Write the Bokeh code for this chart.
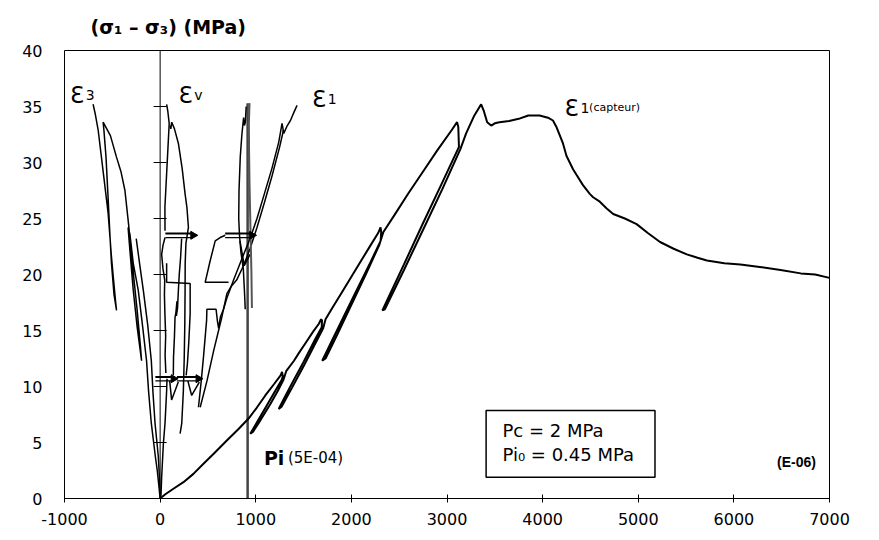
import numpy as np
from bokeh.plotting import figure
from bokeh.models import Range1d, Span, Label, BoxAnnotation
from bokeh.embed import file_html
from bokeh.resources import INLINE

# ---------------- data (strain in E-06, stress in MPa) ----------------
x_ticks = [-1000, 0, 1000, 2000, 3000, 4000, 5000, 6000, 7000]
x_tick_labels = ["-1000", "0", "1000", "2000", "3000", "4000", "5000", "6000", "7000"]
y_ticks = [0, 5, 10, 15, 20, 25, 30, 35, 40]

# eps1 (capteur)
eps1c_x = [0, 51, 139, 244, 348, 453, 560, 700, 820, 925, 1010, 1100, 1190, 1260, 1275, 1283, 1272,
           1200, 1100, 1020, 943,
           970, 1050, 1150, 1230, 1290, 1320, 1400, 1452, 1530, 1600, 1660, 1683, 1693, 1690,
           1620, 1500, 1380, 1300, 1240,
           1270, 1380, 1500, 1620, 1705, 1730, 1800, 1900, 2000, 2100, 2200, 2280, 2305, 2312, 2306,
           2200, 2050, 1900, 1780, 1695,
           1730, 1850, 2000, 2150, 2290, 2335, 2450, 2600, 2750, 2900, 3050, 3105, 3118, 3125,
           2950, 2750, 2550, 2324,
           2350, 2550, 2750, 2950, 3140, 3200, 3280, 3357, 3385, 3420, 3462, 3500, 3548, 3650, 3750,
           3850, 3968, 4056, 4108, 4143, 4213, 4249, 4318, 4354, 4420, 4493, 4528, 4598, 4670, 4738,
           4860, 4983, 5100, 5228, 5370, 5508, 5620, 5718, 5900, 6068, 6250, 6488, 6700, 6850, 7000]
eps1c_y = [0, 0.36, 0.87, 1.46, 2.2, 3.1, 4.0, 5.2, 6.2, 7.14, 8.1, 9.2, 10.2, 11.0, 11.3, 10.9, 10.6,
           9.55, 8.08, 6.91, 5.78,
           5.95, 7.0, 8.4, 9.6, 10.6, 11.4, 12.3, 13.0, 14.0, 14.9, 15.6, 16.0, 15.9, 15.3,
           14.2, 12.2, 10.3, 9.0, 8.0,
           8.2, 9.9, 11.8, 13.8, 15.2, 16.0, 17.0, 18.4, 19.8, 21.2, 22.6, 23.7, 24.2, 23.8, 23.0,
           21.1, 18.5, 15.9, 13.8, 12.3,
           12.5, 14.6, 17.3, 20.0, 22.6, 23.8, 25.3, 27.3, 29.2, 31.1, 32.9, 33.6, 33.2, 31.4,
           28.2, 24.6, 20.9, 16.8,
           16.9, 20.4, 24.0, 27.6, 31.2, 32.6, 34.1, 35.2, 34.6, 33.6, 33.3, 33.5, 33.6, 33.7, 33.9,
           34.2, 34.2, 34.0, 33.75, 33.2, 31.7, 30.6, 29.4, 28.9, 28.0, 27.2, 26.9, 26.5, 25.9, 25.4,
           25.0, 24.5, 23.7, 22.9, 22.3, 21.8, 21.5, 21.25, 21.0, 20.9, 20.7, 20.4, 20.1, 20.0, 19.7]

# eps3 (lateral gauges)
eps3_a_x = [0, -8, -30, -50, -92, -120, -142, -185, -229, -281, -316, -335, -322, -300, -281, -240, -194,
            -205, -240, -285, -330, -368, -410, -457, -520, -596, -587, -566, -545, -526, -509, -482, -456,
            -466, -490, -509, -544, -596, -648, -680, -701]
eps3_a_y = [0, 0.7, 2.5, 3.75, 6.7, 9.5, 12.3, 15.5, 18.6, 21, 23.6, 24.2, 22.8, 20.5, 18.6, 15.3, 12.3,
            13.5, 16.8, 20.5, 24.5, 27.5, 29.2, 30.5, 32.4, 33.6, 32.8, 30.5, 27, 23.7, 21, 18.2, 16.8,
            17.6, 19.8, 21.6, 25.5, 29.2, 32.9, 34.4, 35.2]
eps3_b_x = [0, -5, -19, -53, -75, -92, -130, -176, -215, -250]
eps3_b_y = [0.4, 1.5, 3.75, 6.7, 9.5, 12.3, 15.5, 18.6, 21, 23.2]

# eps v (volumetric)
epsv_x = [[0, 9, 16, 34, 51, 68, 72],
          [60, 52, 58, 50, 45, 48, 30, 16, 30, 51],
          [51, 50, 68, 86, 95, 80, 68],
          [138, 140, 150, 156, 165, 176, 170, 182, 191, 200, 214, 225],
          [209, 226, 243, 252, 258, 261, 262, 270, 296, 280, 261, 230, 191, 150, 121, 112, 104],
          [68, 68, 314, 314, 300, 285, 272],
          [100, 120, 190],
          [290, 330, 410]]
epsv_y = [[0, 0.3, 1.9, 4.9, 6.7, 9.6, 10.7],
          [11.2, 12.8, 14.5, 16.5, 18.2, 19.5, 20.5, 21.8, 22.6, 23.3],
          [23.9, 26, 29, 32, 33.5, 34.6, 35.2],
          [11.0, 12.6, 14.5, 16.2, 16.6, 17.6, 16.3, 17.0, 18.6, 20, 21.5, 23.2],
          [5.8, 6.7, 9.6, 12.5, 15.5, 18.6, 21, 22.8, 24.2, 26, 27.2, 29.5, 31.7, 33, 33.6, 33.0, 33.3],
          [21, 19.3, 19.2, 16.5, 14, 12, 11],
          [10.5, 8.8, 10.4],
          [10.5, 9.2, 10.4]]

# eps1 (gauges)
eps1_x = [[401, 430, 453, 486, 489, 585, 600, 612, 630, 663, 698, 716, 768, 850, 940, 1013, 1090, 1170,
           1240, 1275, 1293, 1330, 1363, 1400, 1432],
          [1290, 1250, 1170, 1090, 1013, 940, 873, 800, 740, 698, 640, 560, 490, 419],
          [716, 471, 524, 576, 628, 681],
          [890, 882, 870, 845, 830, 822, 825, 838, 855, 873, 882, 891, 900],
          [835, 880, 940]]
eps1_y = [[8.15, 10.5, 12.6, 15.9, 16.9, 16.9, 15.8, 15.2, 16.2, 16.9, 17.9, 18.3, 19.5, 21.3, 23.2, 25.0,
           27.2, 29.5, 31.8, 33.5, 32.6, 33.3, 33.75, 34.5, 35.1],
          [32.9, 31.4, 28.8, 26.4, 24.2, 22.3, 20.8, 19.5, 18.9, 18.3, 16.0, 13.2, 10.5, 8.15],
          [19.3, 19.3, 21.25, 23.0, 23.3, 23.5],
          [16.9, 18.5, 20.5, 22, 23.5, 25, 27.5, 30.5, 32.5, 34.0, 33.3, 33.6, 35.0],
          [23.0, 20.8, 21.8]]
eps1_grey_x = [960, 955, 945, 935, 930, 928, 935]
eps1_grey_y = [17.0, 20, 24, 28, 31, 33.5, 35.3]

# creep steps (arrows)
creep_x0 = [-50, 175, 55, 680]
creep_x1 = [140, 400, 345, 960]
creep_y = [10.7, 10.7, 23.5, 23.5]

# Pi line
pi_x = [915, 915]
pi_y = [0, 35.3]

# labels
eps_names = ["3", "v", "1", "1"]
eps_lx = [-942, 191, 1587, 4230]
eps_ly = [36.0, 36.0, 35.7, 34.9]

# ---------------- figure ----------------
p = figure(width=875, height=536, x_range=Range1d(-1000, 7000), y_range=Range1d(0, 40),
           output_backend="svg", toolbar_location=None,
           min_border_left=64, min_border_right=46, min_border_top=50, min_border_bottom=38,
           title="(σ₁ – σ₃) (MPa)")
p.title.text_font = "DejaVu Sans"
p.title.text_font_style = "bold"
p.title.text_font_size = "19px"
p.title.text_color = "black"
p.title.align = "left"
p.title.offset = 26
p.title.standoff = 26

p.background_fill_color = "white"
p.border_fill_color = "white"
p.outline_line_color = "black"
p.outline_line_width = 1
p.xgrid.visible = False
p.ygrid.visible = False

p.xaxis.ticker = x_ticks
p.xaxis.major_label_overrides = dict(zip(x_ticks, x_tick_labels))
p.yaxis.ticker = y_ticks
for ax in (p.xaxis, p.yaxis):
    ax.minor_tick_line_color = None
    ax.major_label_text_font = "DejaVu Sans"
    ax.major_label_text_font_size = "16px"
    ax.major_label_text_color = "black"
p.xaxis.axis_line_color = "black"
p.xaxis.major_tick_line_color = "black"
p.xaxis.major_tick_in = 4
p.xaxis.major_tick_out = 4
p.xaxis.major_label_standoff = 10
p.yaxis.axis_line_color = None
p.yaxis.major_tick_line_color = None
p.yaxis.major_label_standoff = 16

# y axis crossing at x = 0
p.add_layout(Span(location=0, dimension="height", line_color="black", line_width=1))
p.scatter(x=[0] * (len(y_ticks) - 2), y=y_ticks[1:-1], marker="dash", size=13,
          line_color="black", line_width=1)

# Pi line
p.line(pi_x, pi_y, line_color="#444444", line_width=2.5)

# curves
p.line(eps3_a_x, eps3_a_y, line_color="black", line_width=1.5)
p.line(eps3_b_x, eps3_b_y, line_color="black", line_width=1.5)
p.multi_line(epsv_x, epsv_y, line_color="black", line_width=1.5)
p.multi_line(eps1_x, eps1_y, line_color="black", line_width=1.5)
p.line(eps1_grey_x, eps1_grey_y, line_color="#555555", line_width=2)
p.line(eps1c_x, eps1c_y, line_color="black", line_width=2)

# creep arrows
p.segment(x0=creep_x0, y0=[v + 0.15 for v in creep_y], x1=creep_x1, y1=[v + 0.15 for v in creep_y],
          line_color="black", line_width=2)
p.segment(x0=creep_x0, y0=[v - 0.2 for v in creep_y], x1=creep_x1, y1=[v - 0.2 for v in creep_y],
          line_color="black", line_width=1.2)
p.scatter(x=creep_x1, y=creep_y, marker="triangle", angle=-np.pi / 2, size=8,
          fill_color="black", line_color="black")

# texts
for nm, lx, ly in zip(eps_names, eps_lx, eps_ly):
    p.add_layout(Label(x=lx, y=ly, text="Ɛ", text_font="DejaVu Sans", text_font_size="23px",
                       text_color="black", text_baseline="alphabetic"))
    p.add_layout(Label(x=lx + 165, y=ly, text=nm, text_font="DejaVu Sans", text_font_size="14px",
                       text_color="black", text_baseline="alphabetic"))
p.add_layout(Label(x=4486, y=34.9, text="(capteur)", text_font="DejaVu Sans", text_font_size="11px",
                   text_color="black", text_baseline="alphabetic"))

p.add_layout(Label(x=1085, y=3.66, text="Pi", text_font="DejaVu Sans", text_font_style="bold",
                   text_font_size="19px", text_color="black", text_baseline="middle"))
p.add_layout(Label(x=1336, y=3.66, text="(5E-04)", text_font="DejaVu Sans",
                   text_font_size="15px", text_color="black", text_baseline="middle"))

p.add_layout(BoxAnnotation(left=3409, right=5175, bottom=1.9, top=7.86, fill_color="white",
                           fill_alpha=1, line_color="black", line_width=1.5, line_alpha=1))
p.add_layout(Label(x=3580, y=6.07, text="Pc = 2 MPa", text_font="DejaVu Sans",
                   text_font_size="18px", text_color="black", text_baseline="middle"))
p.add_layout(Label(x=3580, y=3.93, text="Pi₀ = 0.45 MPa", text_font="DejaVu Sans",
                   text_font_size="18px", text_color="black", text_baseline="middle"))

p.add_layout(Label(x=6655, y=3.3, text="(E-06)", text_font="Liberation Sans", text_font_style="bold",
                   text_font_size="14px", text_color="black", text_baseline="middle",
                   text_align="center"))

open("out.html", "w").write(file_html(p, INLINE))
